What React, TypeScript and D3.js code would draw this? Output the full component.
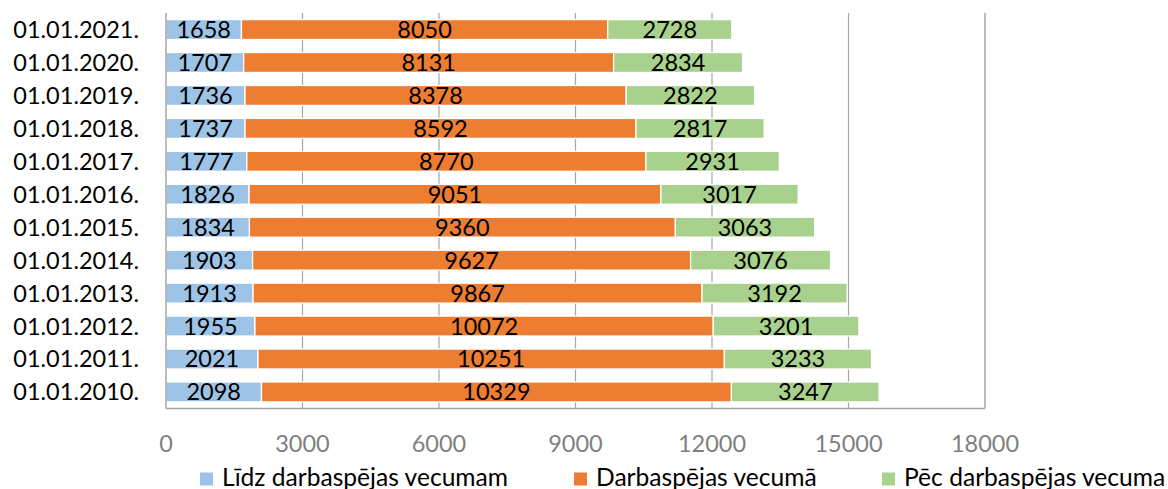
import React from "react";
import * as d3 from "d3";

const categories = [
  "01.01.2021.", "01.01.2020.", "01.01.2019.", "01.01.2018.", "01.01.2017.", "01.01.2016.",
  "01.01.2015.", "01.01.2014.", "01.01.2013.", "01.01.2012.", "01.01.2011.", "01.01.2010.",
];
const lidz = [1658, 1707, 1736, 1737, 1777, 1826, 1834, 1903, 1913, 1955, 2021, 2098];
const darba = [8050, 8131, 8378, 8592, 8770, 9051, 9360, 9627, 9867, 10072, 10251, 10329];
const pec = [2728, 2834, 2822, 2817, 2931, 3017, 3063, 3076, 3192, 3201, 3233, 3247];
const seriesNames = ["Līdz darbaspējas vecumam", "Darbaspējas vecumā", "Pēc darbaspējas vecuma"];
const colors = ["#9DC3E6", "#ED7D31", "#A9D18E"];
const xTicks = [0, 3000, 6000, 9000, 12000, 15000, 18000];

const W = 1168, H = 489;
const left = 166, right = 985, top = 13, bottom = 408.5;
const FONT = "Lato, 'Open Sans', sans-serif";
const FS = 23.5;

export default function App() {
  const x = d3.scaleLinear().domain([0, 18000]).range([left, right]);
  const y = d3.scaleBand().domain(categories).range([top, bottom]).paddingInner(0.395).paddingOuter(0.2);
  const data = categories.map((c, i) => ({ cat: c, vals: [lidz[i], darba[i], pec[i]] }));
  const legendX = [200, 574, 882];
  return (
    <svg width={W} height={H} style={{ position: "absolute", left: 0, top: 0, background: "#fff" }}
      fontFamily={FONT}>
      {xTicks.slice(1, -1).map((t) => (
        <line key={t} x1={x(t)} x2={x(t)} y1={top} y2={bottom} stroke="#A6A6A6" strokeWidth={1.2} />
      ))}
      <line x1={x(18000)} x2={x(18000)} y1={top} y2={bottom} stroke="#A6A6A6" strokeWidth={1.5} />
      {data.map((d) => {
        let acc = 0;
        return (
          <g key={d.cat}>
            {d.vals.map((v, j) => {
              const x0 = acc;
              acc += v;
              const bx = x(x0), bw = x(acc) - x(x0);
              const cy = (y(d.cat) as number) + y.bandwidth() / 2;
              return (
                <g key={j}>
                  <rect x={bx} y={y(d.cat)} width={bw} height={y.bandwidth()} fill={colors[j]}
                    stroke="#fff" strokeWidth={1.3} />
                  <text x={bx + bw / 2} y={cy} dy="0.36em" textAnchor="middle" fontSize={FS} fill="#000">
                    {v}
                  </text>
                </g>
              );
            })}
            <text x={139} y={(y(d.cat) as number) + y.bandwidth() / 2} dy="0.36em" textAnchor="end"
              fontSize={FS} fill="#000">{d.cat}</text>
          </g>
        );
      })}
      <line x1={left} x2={left} y1={top} y2={bottom} stroke="#A6A6A6" strokeWidth={1.5} />
      <line x1={left} x2={right} y1={bottom} y2={bottom} stroke="#A6A6A6" strokeWidth={1.5} />
      {xTicks.map((t) => (
        <text key={t} x={x(t)} y={444} dy="0.36em" textAnchor="middle" fontSize={FS} fill="#7F7F7F">{t}</text>
      ))}
      {seriesNames.map((s, i) => (
        <g key={s}>
          <rect x={legendX[i]} y={472.5} width={13} height={13} fill={colors[i]} />
          <text x={legendX[i] + 22} y={486} fontSize={24.6} fill="#000">{s}</text>
        </g>
      ))}
    </svg>
  );
}
